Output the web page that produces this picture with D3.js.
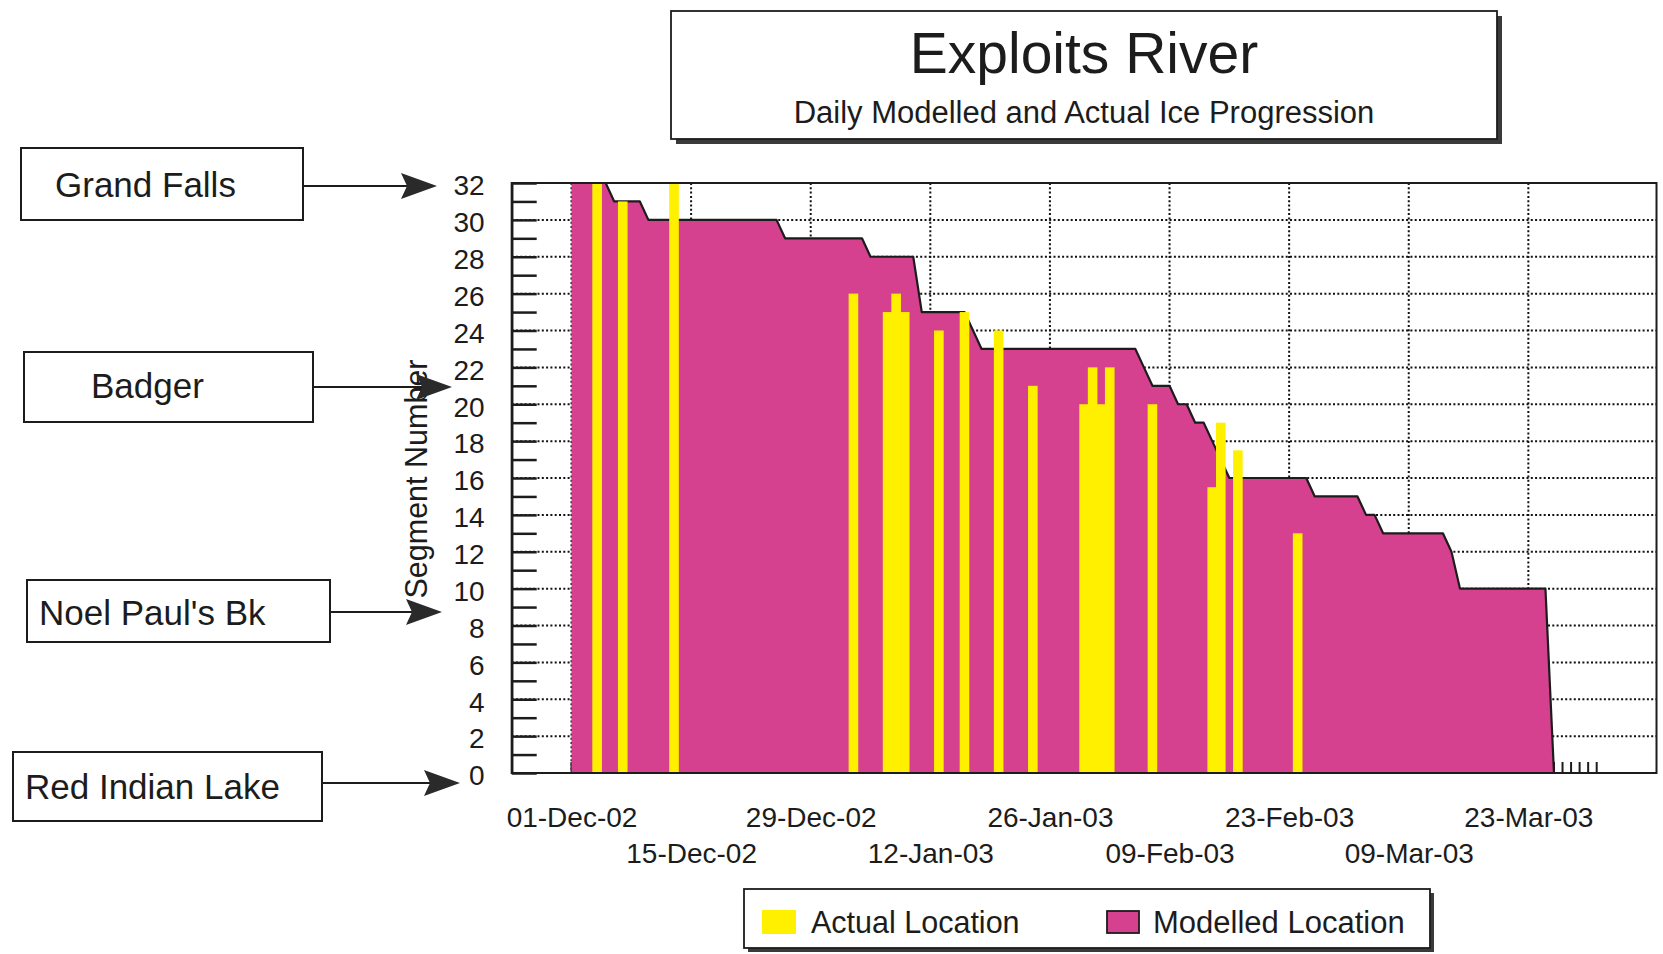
<!DOCTYPE html>
<html><head><meta charset="utf-8">
<script src="https://cdn.jsdelivr.net/npm/d3@7"></script>
<style>
html,body{margin:0;padding:0;background:#fff;}
svg{display:block;}
text{font-family:"Liberation Sans",Arial,Helvetica,sans-serif;fill:#1c1c1c;}
</style></head><body>
<svg id="chart" width="1663" height="954"></svg>
<script>
// ---------------- DATA ----------------
const modelStart = "2002-12-01";
// Modelled ice-front segment, one value per day from 01-Dec-02 to 31-Mar-03
const modelled = [
  32,32,32,32,32,31,31,31,31,30,
  30,30,30,30,30,30,30,30,30,30,
  30,30,30,30,30,29,29,29,29,29,
  29,29,29,29,29,28,28,28,28,28,
  28,25,25,25,25,25,25,24,23,23,
  23,23,23,23,23,23,23,23,23,23,
  23,23,23,23,23,23,23,22,21,21,
  21,20,20,19,19,18,17,16,16,16,
  16,16,16,16,16,16,16,15,15,15,
  15,15,15,14,14,13,13,13,13,13,
  13,13,13,12,10,10,10,10,10,10,
  10,10,10,10,10,0,0,0,0,0,
  0
];
// Actual observed ice-front location
const actualDates = ["2002-12-04","2002-12-07","2002-12-13","2003-01-03","2003-01-07",
  "2003-01-08","2003-01-09","2003-01-13","2003-01-16","2003-01-20","2003-01-24",
  "2003-01-30","2003-01-31","2003-02-01","2003-02-02","2003-02-07","2003-02-14",
  "2003-02-15","2003-02-17","2003-02-24"];
const actualValues = [32,31,32,26,25,26,25,24,25,24,21,20,22,20,22,20,15.5,19,17.5,13];

const xDomain = ["2002-11-24","2003-04-07"];
const xTicks = ["2002-12-01","2002-12-15","2002-12-29","2003-01-12","2003-01-26",
  "2003-02-09","2003-02-23","2003-03-09","2003-03-23"];
const yTicks = [0,2,4,6,8,10,12,14,16,18,20,22,24,26,28,30,32];
const yMinorTicks = [1,3,5,7,9,11,13,15,17,19,21,23,25,27,29,31];
const landmarks = ["Grand Falls","Badger","Noel Paul's Bk","Red Indian Lake"];
const legendLabels = ["Actual Location","Modelled Location"];

// ---------------- LAYOUT ----------------
const W = 1663, H = 954;
const P = {left:511.7, right:1656.5, top:183, bottom:773};
const COL = {model:"#D5418F", actual:"#FFF000", ink:"#1c1c1c"};
const FONT = '"Liberation Sans",Arial,Helvetica,sans-serif';

const parse = d3.timeParse("%Y-%m-%d");
const x = d3.scaleTime().domain(xDomain.map(parse)).range([P.left, P.right]);
const y = d3.scaleLinear().domain([0,32]).range([P.bottom, P.top]);

const start = parse(modelStart);
const modelData = modelled.map((v,i)=>({date:d3.timeDay.offset(start,i), value:v}));
const actualData = actualDates.map((d,i)=>({date:parse(d), value:actualValues[i]}));

const svg = d3.select("#chart");
svg.append("rect").attr("width",W).attr("height",H).attr("fill","#fff");

// ---- Title box ----
const tb = {x:671, y:11, w:826, h:128};
svg.append("rect").attr("x",tb.x+5).attr("y",tb.y+5).attr("width",tb.w).attr("height",tb.h).attr("fill","#3a3a3a");
svg.append("rect").attr("x",tb.x).attr("y",tb.y).attr("width",tb.w).attr("height",tb.h)
  .attr("fill","#fff").attr("stroke",COL.ink).attr("stroke-width",1.8);
svg.append("text").attr("x",tb.x+tb.w/2).attr("y",73).attr("text-anchor","middle")
  .attr("font-size",57).text("Exploits River");
svg.append("text").attr("x",tb.x+tb.w/2).attr("y",123).attr("text-anchor","middle")
  .attr("font-size",31).text("Daily Modelled and Actual Ice Progression");

// ---- Gridlines ----
const grid = svg.append("g");
grid.selectAll("line.gh").data(yTicks.filter(v=>v>0 && v<32)).join("line").attr("class","gh")
  .attr("x1",P.left).attr("x2",P.right).attr("y1",d=>y(d)).attr("y2",d=>y(d))
  .attr("stroke","#111").attr("stroke-width",2).attr("stroke-dasharray","2,2.3");
grid.selectAll("line.gv").data(xTicks.map(parse)).join("line").attr("class","gv")
  .attr("x1",d=>x(d)).attr("x2",d=>x(d)).attr("y1",P.top).attr("y2",P.bottom)
  .attr("stroke","#111").attr("stroke-width",2).attr("stroke-dasharray","2,2.3");

// ---- daily ticks along the category axis (visible only where the area is empty) ----
svg.append("g").selectAll("line").data(modelData).join("line")
  .attr("x1",d=>x(d.date)).attr("x2",d=>x(d.date))
  .attr("y1",y(0)).attr("y2",y(0)-11)
  .attr("stroke",COL.ink).attr("stroke-width",2);

// ---- Modelled area ----
const area = d3.area().x(d=>x(d.date)).y0(y(0)).y1(d=>y(d.value));
const line = d3.line().x(d=>x(d.date)).y(d=>y(d.value));
svg.append("path").datum(modelData).attr("d",area).attr("fill",COL.model);
svg.append("path").datum(modelData).attr("d",line).attr("fill","none")
  .attr("stroke",COL.ink).attr("stroke-width",2.2).attr("stroke-linejoin","round");

// ---- Actual bars ----
const barW = d => x(d3.timeHour.offset(d,27.5)) - x(d);
svg.append("g").selectAll("rect").data(actualData).join("rect")
  .attr("x",d=>x(d.date)-barW(d.date)/2).attr("width",d=>barW(d.date))
  .attr("y",d=>y(d.value)).attr("height",d=>y(0)-y(d.value))
  .attr("fill",COL.actual);

// ---- Plot border ----
svg.append("rect").attr("x",P.left).attr("y",P.top).attr("width",P.right-P.left).attr("height",P.bottom-P.top)
  .attr("fill","none").attr("stroke",COL.ink).attr("stroke-width",2);

// ---- Y axis ----
const gy = svg.append("g").attr("transform",`translate(${P.left},0)`)
  .call(d3.axisLeft(y).tickValues(yTicks).tickSizeInner(-25).tickSizeOuter(0).tickPadding(27).tickFormat(d3.format("d")));
gy.attr("font-family",null).attr("font-size",null);
gy.select(".domain").attr("stroke",COL.ink).attr("stroke-width",2.5);
gy.selectAll(".tick line").attr("stroke",COL.ink).attr("stroke-width",2.5);
gy.selectAll(".tick text").attr("font-size",28).attr("font-family",FONT).attr("fill","#1c1c1c").attr("dy","0.42em");
const gyMinor = svg.append("g").attr("transform",`translate(${P.left},0)`)
  .call(d3.axisLeft(y).tickValues(yMinorTicks).tickSizeInner(-25).tickSizeOuter(0).tickFormat(""));
gyMinor.select(".domain").remove();
gyMinor.selectAll(".tick line").attr("stroke",COL.ink).attr("stroke-width",2.5);

// ---- X axis ----
const gx = svg.append("g").attr("transform",`translate(0,${P.bottom})`)
  .call(d3.axisBottom(x).tickValues(xTicks.map(parse)).tickSize(0).tickFormat(d3.timeFormat("%d-%b-%y")));
gx.attr("font-family",null).attr("font-size",null);
gx.select(".domain").remove();
gx.selectAll(".tick text").attr("font-size",28).attr("font-family",FONT).attr("fill","#1c1c1c")
  .attr("dy",0).attr("y",(d,i)=> i%2===0 ? 54 : 90);

// ---- Axis title ----
svg.append("text").attr("transform","translate(427,479) rotate(-90)").attr("text-anchor","middle")
  .attr("font-size",30.5).text("Segment Number");

// ---- Landmark annotation boxes with arrows ----
const boxes = [
  {bx:21, by:148, bw:282, bh:72, tx:55, ty:197, ay:186, tip:437},
  {bx:24, by:352, bw:289, bh:70, tx:91, ty:398, ay:387, tip:452},
  {bx:27, by:580, bw:303, bh:62, tx:39, ty:625, ay:612, tip:442},
  {bx:13, by:752, bw:309, bh:69, tx:25, ty:799, ay:783, tip:460}
];
const ann = svg.append("g");
boxes.forEach((b,i)=>{
  ann.append("rect").attr("x",b.bx).attr("y",b.by).attr("width",b.bw).attr("height",b.bh)
    .attr("fill","#fff").attr("stroke",COL.ink).attr("stroke-width",2);
  ann.append("text").attr("x",b.tx).attr("y",b.ty).attr("font-size",35).text(landmarks[i]);
  ann.append("line").attr("x1",b.bx+b.bw).attr("x2",b.tip-30).attr("y1",b.ay).attr("y2",b.ay)
    .attr("stroke",COL.ink).attr("stroke-width",2);
  ann.append("path").attr("d",`M${b.tip},${b.ay} L${b.tip-36},${b.ay-13} L${b.tip-30},${b.ay} L${b.tip-36},${b.ay+13} Z`)
    .attr("fill","#2a2a2a");
});

// ---- Legend ----
const lg = {x:744, y:889, w:686, h:59};
svg.append("rect").attr("x",lg.x+4).attr("y",lg.y+4).attr("width",lg.w).attr("height",lg.h).attr("fill","#3a3a3a");
svg.append("rect").attr("x",lg.x).attr("y",lg.y).attr("width",lg.w).attr("height",lg.h)
  .attr("fill","#fff").attr("stroke",COL.ink).attr("stroke-width",1.8);
svg.append("rect").attr("x",762).attr("y",910).attr("width",34).attr("height",24).attr("fill",COL.actual);
svg.append("text").attr("x",811).attr("y",933).attr("font-size",30.5).text(legendLabels[0]);
svg.append("rect").attr("x",1107).attr("y",911).attr("width",32).attr("height",22).attr("fill",COL.model)
  .attr("stroke",COL.ink).attr("stroke-width",1.8);
svg.append("text").attr("x",1153).attr("y",933).attr("font-size",31).text(legendLabels[1]);
</script>
</body></html>
